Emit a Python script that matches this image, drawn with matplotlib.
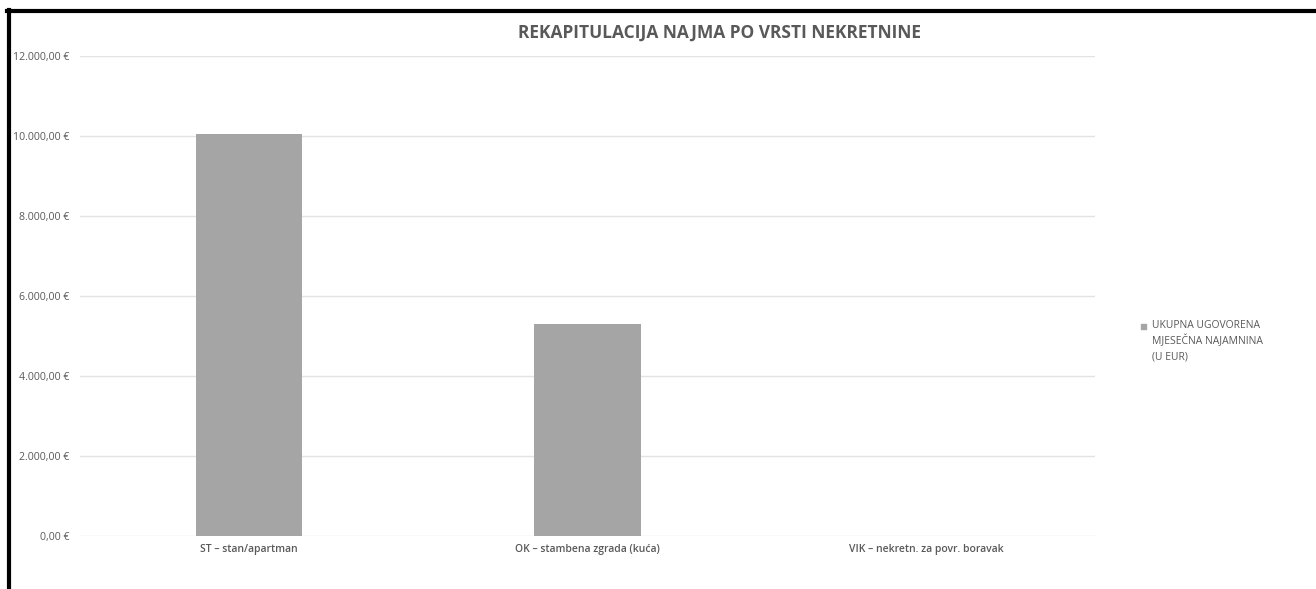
import matplotlib
matplotlib.use("Agg")
import matplotlib.pyplot as plt
from matplotlib.ticker import FuncFormatter, MultipleLocator
from matplotlib.lines import Line2D
from matplotlib.patches import Rectangle

categories = ["ST – stan/apartman", "OK – stambena zgrada (kuća)", "VIK – nekretn. za povr. boravak"]
values = [10050, 5295, 0]
series_name = "UKUPNA UGOVORENA\nMJESEČNA NAJAMNINA\n(U EUR)"
title = "REKAPITULACIJA NAJMA PO VRSTI NEKRETNINE"

plt.rcParams['font.family'] = ['Open Sans', 'DejaVu Sans']

W, H = 1316, 589
fig = plt.figure(figsize=(W / 100, H / 100), dpi=100)
ax = fig.add_axes([80 / W, 1 - 536 / H, (1095 - 80) / W, (536 - 55.5) / H])

bar_color = "#a5a5a5"
text_color = "#595959"
x = list(range(len(categories)))
ax.bar(x, values, width=0.314, color=bar_color, zorder=3)
ax.set_xlim(-0.5, len(categories) - 0.5)
ax.set_ylim(0, 12000)
ax.yaxis.set_major_locator(MultipleLocator(2000))

def eur(v, pos):
    s = f"{v:,.2f}"
    s = s.replace(",", "X").replace(".", ",").replace("X", ".")
    return s + " €"

ax.yaxis.set_major_formatter(FuncFormatter(eur))
ax.set_xticks(x)
ax.set_xticklabels(categories, fontsize=7.5, color=text_color, fontweight='semibold')
ax.tick_params(axis='y', length=0, pad=7.5, labelsize=7.6, labelcolor=text_color)
ax.tick_params(axis='x', length=0, pad=6)
ax.grid(axis='y', color="#e3e3e3", linewidth=1, zorder=0)
for s in ax.spines.values():
    s.set_visible(False)

fig.text(720 / W, 1 - 33 / H, title, ha='center', va='center', fontsize=12.5,
         fontweight='bold', color=text_color)

# legend
fig.patches.append(Rectangle((1140.5 / W, 1 - 329 / H), 5.5 / W, 5.5 / H,
                             transform=fig.transFigure, color=bar_color))
fig.text(1152 / W, 1 - 320 / H, series_name, ha='left', va='top', fontsize=7.5,
         color=text_color, linespacing=1.45)

# screenshot border
fig.add_artist(Line2D([8.5 / W, 8.5 / W], [1 - 10 / H, 0], transform=fig.transFigure,
                      color='black', linewidth=3))
fig.add_artist(Line2D([7 / W, 1], [1 - 11 / H, 1 - 11 / H], transform=fig.transFigure,
                      color='black', linewidth=3))

fig.savefig("out.png", dpi=100)
